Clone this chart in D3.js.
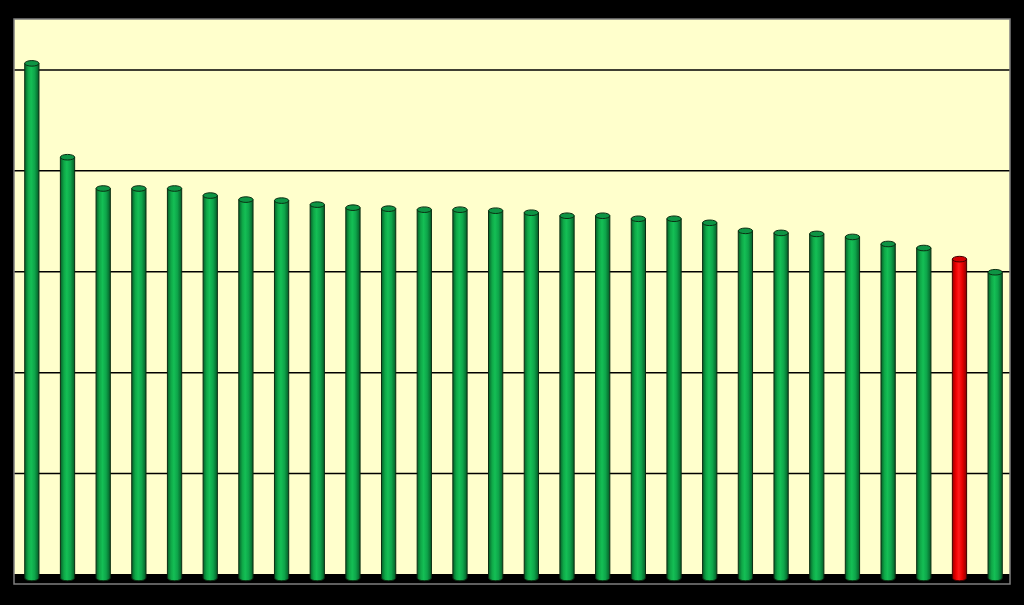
<!DOCTYPE html>
<html>
<head>
<meta charset="utf-8">
<script src="https://cdn.jsdelivr.net/npm/d3@7"></script>
<style>
  body { margin: 0; background: #000; }
  svg { display: block; }
</style>
</head>
<body>
<script>
// chart data (no labels are shown on it)
var categories = d3.range(1, 29).map(String);
var values = [5.10, 4.17, 3.86, 3.86, 3.86, 3.79, 3.75, 3.74, 3.70, 3.67,
              3.66, 3.65, 3.65, 3.64, 3.62, 3.59, 3.59, 3.56, 3.56, 3.52,
              3.44, 3.42, 3.41, 3.38, 3.31, 3.27, 3.16, 3.03];
var highlight = ["27"];
var yTicks = [1, 2, 3, 4, 5];

var W = 1024, H = 605;
var plot = {left: 14, right: 1010, top: 19, wallBottom: 574, bottom: 584};
var depth = 4;   // how far the cylinders stand in front of the back wall

var svg = d3.select("body").append("svg")
  .attr("width", W)
  .attr("height", H);

var xScale = d3.scaleBand()
  .domain(categories)
  .range([plot.left, plot.right + 3])
  .paddingInner(0.6)
  .paddingOuter(0.3);

var yScale = d3.scaleLinear()
  .domain([0, 5.5])
  .range([plot.wallBottom, plot.top]);

// gradients for the cylinders
var defs = svg.append("defs");
function cylGradient(id, stops) {
  var g = defs.append("linearGradient").attr("id", id)
    .attr("x1", "0%").attr("x2", "100%").attr("y1", "0%").attr("y2", "0%");
  stops.forEach(function(s) {
    g.append("stop").attr("offset", s[0]).attr("stop-color", s[1]);
  });
}
cylGradient("gGreen", [["0%", "#06602a"], ["25%", "#0fa847"], ["45%", "#14bf55"],
                       ["70%", "#0ea54a"], ["100%", "#055d28"]]);
cylGradient("gRed", [["0%", "#9a0000"], ["25%", "#ee0000"], ["45%", "#ff1a1a"],
                     ["70%", "#e60000"], ["100%", "#8a0000"]]);

// back wall
svg.append("rect")
  .attr("x", plot.left).attr("y", plot.top)
  .attr("width", plot.right - plot.left)
  .attr("height", plot.wallBottom - plot.top)
  .attr("fill", "#ffffcc");

// floor
svg.append("rect")
  .attr("x", plot.left).attr("y", plot.wallBottom)
  .attr("width", plot.right - plot.left)
  .attr("height", plot.bottom - plot.wallBottom)
  .attr("fill", "#000");

// gridlines
var yAxis = d3.axisLeft(yScale)
  .tickValues(yTicks)
  .tickSize(-(plot.right - plot.left))
  .tickFormat("");
var yAxisGroup = svg.append("g")
  .attr("transform", "translate(" + plot.left + ",0)")
  .call(yAxis);
yAxisGroup.select(".domain").remove();
yAxisGroup.selectAll(".tick line")
  .attr("stroke", "#000")
  .attr("stroke-width", 1.5);

// cylinders
var rx = xScale.bandwidth() / 2;
var ry = 2.8;

var bars = svg.selectAll("g.cyl")
  .data(values)
  .enter()
  .append("g")
  .attr("class", "cyl");

bars.append("path")
  .attr("d", function(d, i) {
    var x0 = xScale(categories[i]);
    var x1 = x0 + xScale.bandwidth();
    var yt = yScale(d) + depth;
    var yb = yScale(0) + depth;
    return "M" + x0 + "," + yt + "L" + x0 + "," + yb +
      "A" + rx + "," + ry + " 0 0 0 " + x1 + "," + yb +
      "L" + x1 + "," + yt + "Z";
  })
  .attr("fill", function(d, i) {
    return highlight.indexOf(categories[i]) >= 0 ? "url(#gRed)" : "url(#gGreen)";
  })
  .attr("stroke", function(d, i) {
    return highlight.indexOf(categories[i]) >= 0 ? "#400000" : "#0b2e12";
  })
  .attr("stroke-width", 1);

bars.append("ellipse")
  .attr("cx", function(d, i) { return xScale(categories[i]) + rx; })
  .attr("cy", function(d) { return yScale(d) + depth; })
  .attr("rx", rx)
  .attr("ry", ry)
  .attr("fill", function(d, i) {
    return highlight.indexOf(categories[i]) >= 0 ? "#d40000" : "#0e9444";
  })
  .attr("stroke", function(d, i) {
    return highlight.indexOf(categories[i]) >= 0 ? "#400000" : "#0b2e12";
  })
  .attr("stroke-width", 1);

// plot border
svg.append("rect")
  .attr("x", plot.left).attr("y", plot.top)
  .attr("width", plot.right - plot.left)
  .attr("height", plot.bottom - plot.top)
  .attr("fill", "none")
  .attr("stroke", "#7f7f7f")
  .attr("stroke-width", 1.5);
</script>
</body>
</html>
